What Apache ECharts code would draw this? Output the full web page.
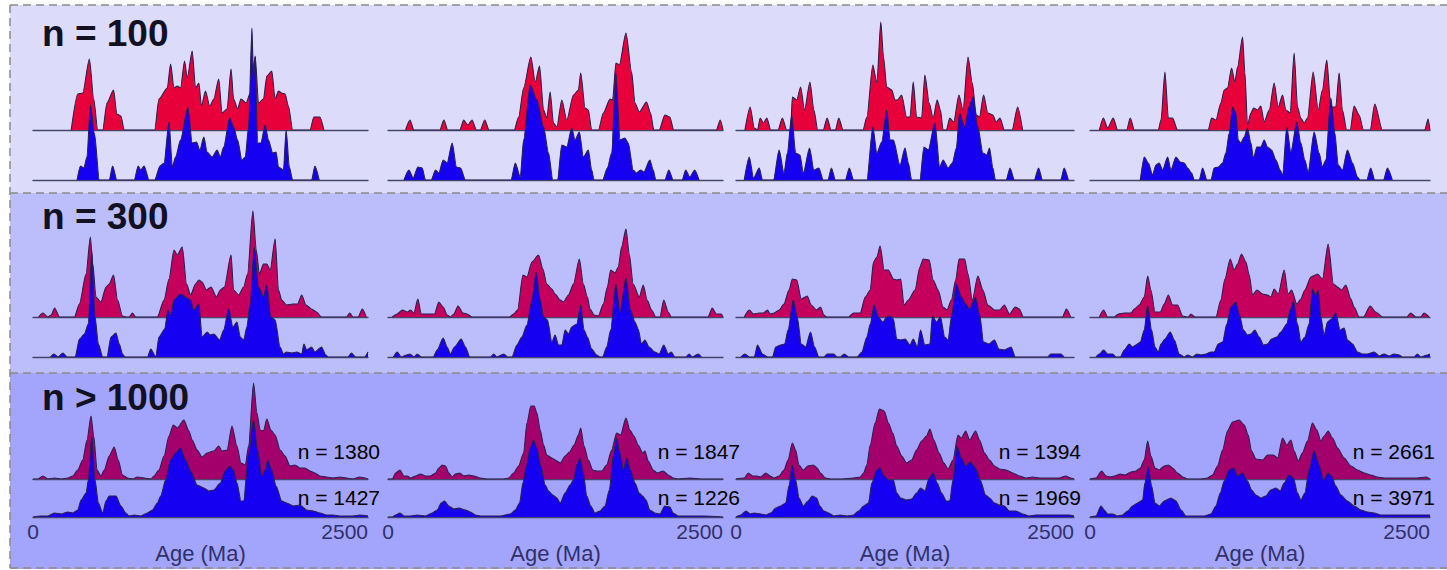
<!DOCTYPE html>
<html><head><meta charset="utf-8">
<script src="https://cdn.jsdelivr.net/npm/echarts@6/dist/echarts.min.js"></script>
<style>html,body{margin:0;padding:0;background:#fff}#c{width:1447px;height:570px}</style>
</head><body><div id="c"></div>
<script>
// ---- Data: [age (Ma), relative probability density] ----
const red100a=[[285,0],[334,36],[371,37],[421,71],[453,31],[483,0],[520,0],[552,27],[601,40],[626,16],[656,14],[681,0],[908,0],[940,31],[1002,42],[1027,66],[1052,42],[1077,44],[1101,42],[1131,69],[1151,52],[1188,79],[1213,42],[1238,47],[1257,24],[1287,39],[1319,24],[1349,31],[1386,51],[1411,17],[1448,21],[1478,61],[1497,31],[1527,21],[1552,31],[1591,27],[1621,37],[1658,74],[1683,27],[1720,31],[1745,54],[1782,59],[1807,31],[1832,39],[1856,37],[1881,36],[1906,24],[1938,0],[2067,0],[2096,13],[2141,13],[2171,0]];
const blue100a=[[329,0],[354,14],[379,12],[403,23],[428,75],[458,47],[495,0],[569,0],[594,14],[626,0],[755,0],[785,14],[804,10],[829,14],[866,0],[908,0],[948,14],[978,17],[1015,58],[1040,13],[1064,23],[1101,40],[1156,73],[1188,37],[1220,38],[1245,30],[1275,43],[1299,28],[1337,23],[1374,30],[1398,23],[1423,33],[1468,62],[1497,53],[1527,40],[1559,20],[1584,23],[1609,53],[1634,152],[1646,97],[1658,123],[1676,37],[1700,37],[1733,55],[1757,40],[1789,27],[1814,28],[1832,13],[1869,10],[1889,50],[1913,13],[1938,0],[2079,0],[2104,14],[2136,0]];
const red100b=[[131,0],[164,10],[193,0],[387,0],[417,10],[446,0],[536,0],[565,10],[595,5],[627,10],[660,0],[689,0],[722,10],[754,0],[942,0],[975,13],[1012,42],[1066,73],[1099,48],[1131,64],[1161,20],[1185,12],[1210,38],[1235,7],[1260,3],[1297,30],[1334,10],[1384,35],[1421,40],[1438,57],[1471,22],[1495,20],[1520,0],[1570,0],[1607,17],[1657,31],[1676,30],[1701,67],[1726,65],[1776,97],[1818,58],[1843,27],[1875,18],[1929,28],[1959,17],[1984,0],[2024,0],[2066,15],[2103,13],[2133,0],[2450,0],[2480,10],[2500,0]];
const blue100b=[[119,0],[156,10],[188,2],[223,13],[255,12],[280,0],[322,0],[355,10],[379,7],[412,20],[441,17],[479,37],[511,13],[541,12],[578,0],[918,0],[950,17],[987,3],[1012,40],[1061,95],[1111,80],[1161,53],[1198,27],[1230,0],[1265,0],[1297,35],[1334,33],[1371,52],[1396,40],[1428,48],[1458,23],[1495,30],[1520,10],[1538,0],[1602,0],[1637,12],[1669,27],[1701,107],[1731,40],[1768,42],[1793,37],[1830,10],[1855,7],[1885,10],[1910,8],[1954,20],[1979,10],[1999,0],[2066,0],[2096,10],[2128,0],[2195,0],[2222,10],[2252,3],[2289,10],[2321,0]];
const red100c=[[66,0],[105,23],[135,2],[159,0],[179,12],[203,7],[228,12],[257,0],[311,0],[343,12],[375,0],[404,0],[417,33],[449,30],[478,43],[507,20],[547,48],[576,20],[605,0],[645,0],[674,12],[703,0],[735,0],[760,12],[792,0],[939,0],[968,13],[1012,65],[1042,47],[1071,108],[1091,73],[1115,43],[1152,40],[1176,30],[1194,30],[1225,35],[1262,13],[1287,13],[1311,48],[1336,13],[1373,12],[1397,55],[1429,27],[1458,12],[1488,30],[1512,20],[1532,0],[1556,0],[1581,12],[1610,8],[1649,35],[1679,20],[1716,73],[1748,47],[1777,15],[1801,13],[1831,35],[1863,17],[1900,15],[1924,8],[1953,12],[1985,0],[2042,0],[2083,23],[2120,0]];
const blue100c=[[61,0],[98,23],[130,2],[172,12],[196,0],[277,0],[319,30],[355,7],[380,27],[412,65],[441,27],[473,25],[498,7],[544,32],[576,10],[613,12],[645,0],[679,0],[706,12],[735,0],[809,0],[838,12],[870,0],[968,0],[1012,53],[1042,27],[1078,38],[1115,70],[1140,40],[1164,40],[1213,15],[1250,32],[1275,17],[1299,0],[1360,0],[1390,33],[1422,30],[1471,57],[1507,13],[1532,20],[1569,12],[1600,17],[1630,32],[1654,67],[1691,53],[1723,73],[1752,83],[1789,53],[1826,27],[1855,25],[1875,32],[1900,12],[1919,0],[1998,0],[2027,12],[2059,0],[2206,0],[2238,12],[2267,0],[2402,0],[2427,12],[2458,0]];
const red100d=[[69,0],[98,12],[130,2],[171,12],[203,0],[269,0],[296,12],[326,0],[502,0],[522,10],[551,58],[576,12],[607,12],[644,0],[869,0],[894,12],[926,10],[962,27],[987,40],[1011,42],[1041,62],[1065,48],[1085,63],[1122,93],[1139,57],[1158,5],[1183,17],[1203,22],[1232,20],[1256,24],[1281,8],[1318,20],[1354,47],[1384,23],[1416,35],[1440,20],[1472,17],[1501,77],[1526,23],[1550,12],[1575,7],[1599,12],[1641,58],[1678,20],[1709,40],[1741,70],[1771,23],[1807,23],[1832,57],[1856,20],[1888,0],[1913,0],[1942,24],[1979,15],[2011,0],[2060,0],[2094,26],[2150,0],[2461,0],[2486,11],[2500,0]];
const blue100d=[[370,0],[399,23],[429,17],[460,5],[485,15],[509,17],[534,10],[571,23],[595,10],[632,23],[664,18],[693,17],[718,12],[747,7],[767,0],[803,0],[828,12],[860,0],[889,0],[913,12],[943,13],[975,17],[999,27],[1024,47],[1048,73],[1073,67],[1090,40],[1109,37],[1134,43],[1158,52],[1183,37],[1202,22],[1227,33],[1256,33],[1281,40],[1305,33],[1335,30],[1367,20],[1398,10],[1416,5],[1447,53],[1477,28],[1521,58],[1550,37],[1580,20],[1604,8],[1648,48],[1685,27],[1709,13],[1734,20],[1771,82],[1800,47],[1825,15],[1856,10],[1893,30],[1930,17],[1967,3],[1986,0],[2035,0],[2064,12],[2094,0],[2158,0],[2187,12],[2223,0]];

const red300a=[[42,0],[74,4],[111,0],[136,2],[161,9],[198,0],[309,0],[346,13],[396,43],[428,80],[446,53],[470,20],[507,15],[545,30],[569,33],[601,42],[631,17],[668,1],[693,0],[718,0],[742,4],[767,0],[928,0],[978,17],[1015,38],[1052,67],[1077,62],[1114,70],[1146,33],[1176,22],[1213,33],[1238,37],[1262,35],[1294,27],[1329,30],[1369,20],[1398,27],[1428,30],[1478,62],[1497,27],[1535,22],[1572,30],[1601,43],[1641,106],[1666,67],[1690,43],[1720,53],[1745,53],[1770,47],[1807,78],[1832,27],[1856,17],[1893,12],[1938,13],[1975,13],[2005,22],[2037,12],[2079,8],[2116,5],[2153,0],[2339,0],[2364,4],[2388,0],[2426,0],[2458,8],[2487,0]];
const blue300a=[[131,0],[156,3],[186,0],[223,4],[255,0],[314,0],[347,18],[384,23],[413,33],[438,107],[463,40],[488,13],[520,0],[552,0],[582,20],[619,24],[644,13],[668,3],[686,0],[854,0],[879,8],[916,0],[940,20],[983,28],[1007,47],[1027,42],[1052,57],[1101,63],[1139,60],[1176,57],[1200,47],[1238,53],[1262,20],[1300,25],[1324,22],[1349,23],[1393,17],[1423,27],[1460,48],[1492,30],[1522,35],[1547,20],[1572,17],[1596,30],[1621,53],[1651,110],[1683,70],[1720,60],[1745,72],[1775,40],[1807,37],[1844,10],[1869,3],[1893,5],[1931,4],[1968,5],[2005,3],[2022,13],[2042,7],[2079,10],[2104,5],[2153,10],[2185,2],[2203,0],[2351,0],[2376,4],[2408,0],[2475,0],[2500,5]];
const red300b=[[32,0],[69,3],[107,7],[144,5],[169,7],[193,4],[223,18],[248,3],[280,3],[317,3],[347,3],[379,15],[412,10],[441,2],[466,0],[491,3],[523,11],[560,4],[590,3],[627,0],[908,0],[937,3],[967,7],[1007,42],[1037,40],[1074,55],[1123,62],[1156,48],[1185,33],[1223,28],[1247,23],[1285,17],[1309,15],[1347,22],[1384,33],[1428,58],[1458,33],[1488,20],[1508,8],[1538,2],[1570,1],[1607,13],[1637,30],[1662,47],[1694,44],[1719,50],[1743,70],[1776,88],[1800,63],[1830,33],[1875,20],[1905,32],[1934,17],[1967,7],[1999,0],[2029,0],[2058,17],[2091,5],[2115,0],[2388,0],[2420,9],[2450,3],[2487,3],[2500,0]];
const blue300b=[[40,0],[69,5],[99,0],[139,2],[164,3],[193,0],[218,3],[248,0],[337,0],[367,7],[412,19],[441,10],[466,3],[496,10],[546,18],[578,10],[610,0],[764,0],[789,3],[813,0],[863,3],[893,0],[925,0],[962,12],[999,20],[1037,32],[1074,57],[1106,85],[1136,57],[1161,40],[1190,37],[1223,15],[1247,22],[1272,12],[1297,12],[1322,27],[1347,23],[1371,30],[1409,33],[1438,52],[1463,27],[1488,20],[1520,8],[1557,2],[1582,0],[1602,0],[1632,10],[1662,27],[1701,73],[1731,45],[1776,79],[1810,47],[1843,35],[1867,28],[1892,13],[1917,17],[1949,10],[1991,5],[2024,3],[2058,12],[2091,3],[2115,5],[2140,0],[2222,0],[2247,3],[2272,0],[2314,3],[2339,0]];
const red300c=[[61,0],[98,7],[130,3],[172,4],[203,4],[233,7],[252,3],[282,4],[319,7],[355,13],[392,27],[417,38],[449,37],[483,18],[527,21],[556,12],[596,7],[625,10],[650,2],[669,0],[833,0],[870,4],[919,4],[956,20],[993,27],[1017,55],[1042,60],[1066,71],[1096,47],[1127,47],[1164,38],[1189,37],[1218,38],[1243,12],[1275,17],[1324,27],[1360,50],[1385,58],[1429,57],[1458,37],[1495,27],[1532,10],[1561,7],[1593,17],[1625,37],[1650,58],[1691,58],[1716,43],[1748,17],[1789,41],[1826,27],[1863,12],[1912,7],[1949,7],[1985,12],[2022,3],[2066,10],[2096,8],[2125,0],[2414,0],[2444,8],[2475,0]];
const blue300c=[[37,0],[66,3],[98,0],[135,0],[159,12],[196,3],[233,0],[270,0],[294,10],[331,12],[360,13],[385,27],[424,57],[453,40],[483,13],[515,10],[551,25],[581,10],[613,0],[650,0],[674,3],[723,3],[748,0],[772,0],[801,3],[833,0],[895,0],[931,5],[968,20],[993,33],[1022,52],[1054,40],[1086,35],[1115,40],[1140,41],[1164,38],[1189,18],[1218,17],[1250,18],[1287,12],[1311,18],[1341,10],[1365,27],[1397,12],[1434,13],[1453,41],[1483,35],[1512,40],[1544,20],[1569,17],[1593,40],[1630,73],[1667,60],[1699,53],[1728,48],[1772,60],[1801,43],[1831,15],[1870,13],[1912,17],[1944,8],[1985,7],[2034,10],[2066,0],[2304,0],[2328,3],[2377,3],[2402,3],[2426,0]];
const red300d=[[69,0],[100,7],[130,0],[179,0],[208,3],[252,4],[301,4],[326,8],[362,12],[399,20],[424,41],[448,27],[478,5],[517,5],[546,13],[576,22],[607,12],[644,12],[681,1],[713,0],[722,0],[742,3],[771,0],[926,0],[962,17],[992,38],[1031,58],[1060,47],[1085,53],[1114,63],[1146,55],[1171,42],[1195,22],[1227,27],[1269,23],[1305,22],[1330,20],[1354,28],[1384,23],[1428,47],[1457,23],[1482,27],[1521,13],[1550,18],[1580,27],[1624,40],[1673,43],[1709,38],[1751,73],[1790,33],[1820,30],[1849,27],[1881,32],[1918,18],[1942,10],[1979,0],[2011,0],[2060,11],[2101,5],[2150,0],[2329,0],[2358,4],[2395,0],[2432,0],[2456,4],[2493,0]];
const blue300d=[[44,0],[69,3],[100,7],[130,3],[167,3],[191,0],[223,0],[252,7],[289,13],[313,10],[338,12],[370,15],[399,27],[424,52],[453,27],[478,10],[502,5],[522,13],[551,18],[590,25],[620,17],[656,3],[693,0],[718,2],[754,0],[786,3],[816,2],[852,3],[889,5],[913,5],[943,13],[975,15],[1006,33],[1036,50],[1073,55],[1097,43],[1129,27],[1158,22],[1183,23],[1212,27],[1244,20],[1276,12],[1305,13],[1335,18],[1374,20],[1403,25],[1447,33],[1472,47],[1496,56],[1526,33],[1550,15],[1580,20],[1611,33],[1636,68],[1660,62],[1678,67],[1697,40],[1722,22],[1746,35],[1776,38],[1807,44],[1839,27],[1869,29],[1893,17],[1930,13],[1967,5],[2003,3],[2040,3],[2089,5],[2126,1],[2162,3],[2199,1],[2236,3],[2273,2],[2297,0],[2383,0],[2407,3],[2432,0],[2481,2],[2500,3]];

const red1000a=[[0,0],[37,0],[74,3],[111,0],[161,1],[210,0],[260,1],[297,3],[334,9],[371,19],[403,39],[433,63],[453,43],[478,9],[507,3],[532,9],[569,23],[606,32],[636,19],[668,4],[705,1],[743,0],[780,2],[829,1],[879,0],[903,3],[940,9],[978,23],[1015,43],[1047,54],[1077,51],[1126,59],[1163,48],[1188,39],[1225,29],[1262,22],[1299,26],[1349,28],[1386,33],[1411,28],[1448,29],[1485,53],[1522,33],[1552,16],[1584,14],[1609,33],[1646,96],[1671,66],[1695,49],[1720,48],[1745,60],[1775,49],[1807,44],[1844,29],[1881,23],[1918,13],[1955,14],[1992,11],[2030,11],[2067,8],[2104,6],[2141,3],[2190,2],[2240,1],[2289,2],[2339,1],[2388,0],[2438,2],[2475,1],[2500,0]];
const blue1000a=[[0,0],[62,1],[111,1],[161,4],[210,3],[260,5],[297,4],[334,7],[359,17],[396,24],[413,37],[438,81],[463,37],[488,14],[520,4],[545,16],[569,21],[619,21],[656,11],[693,4],[718,1],[755,2],[804,1],[854,4],[891,7],[928,14],[953,21],[990,37],[1027,57],[1064,64],[1101,69],[1139,57],[1176,46],[1225,32],[1275,29],[1312,26],[1349,27],[1398,34],[1436,46],[1468,51],[1497,47],[1522,34],[1552,16],[1572,16],[1609,64],[1646,97],[1676,67],[1708,41],[1733,47],[1752,57],[1782,47],[1814,31],[1856,16],[1893,14],[1943,11],[1992,12],[2042,7],[2091,6],[2141,4],[2190,2],[2240,2],[2289,1],[2339,1],[2388,1],[2438,2],[2500,1]];
const red1000b=[[0,0],[32,0],[57,6],[89,9],[119,3],[144,3],[169,1],[206,3],[243,5],[280,3],[317,3],[355,6],[379,11],[404,14],[429,13],[454,6],[479,2],[503,5],[536,6],[565,3],[603,4],[640,3],[689,1],[739,0],[863,0],[900,1],[937,6],[975,13],[1012,26],[1037,56],[1066,73],[1091,73],[1111,66],[1136,49],[1161,34],[1185,24],[1223,21],[1260,18],[1285,16],[1322,23],[1354,27],[1389,34],[1421,44],[1438,51],[1463,33],[1495,19],[1528,9],[1557,8],[1595,8],[1632,14],[1669,29],[1706,46],[1736,44],[1776,61],[1805,49],[1835,43],[1867,34],[1900,26],[1917,28],[1942,18],[1979,9],[2009,6],[2053,8],[2091,4],[2128,1],[2165,0],[2252,1],[2351,0],[2500,0]];
const blue1000b=[[0,0],[32,0],[57,2],[89,4],[119,1],[169,1],[218,2],[280,1],[330,4],[367,7],[397,14],[422,16],[454,11],[491,8],[528,9],[578,7],[615,5],[652,2],[689,1],[764,1],[838,1],[913,3],[950,7],[982,14],[1007,34],[1032,51],[1061,69],[1086,77],[1111,69],[1141,51],[1173,32],[1198,26],[1230,22],[1260,19],[1285,14],[1322,24],[1359,32],[1384,37],[1414,54],[1433,59],[1458,44],[1483,21],[1513,11],[1545,4],[1582,6],[1619,11],[1652,27],[1681,61],[1706,79],[1731,64],[1756,47],[1781,59],[1810,47],[1843,34],[1875,24],[1900,21],[1925,17],[1954,7],[1991,4],[2029,3],[2066,11],[2103,10],[2128,4],[2165,1],[2227,1],[2301,1],[2351,1],[2500,0]];
const red1000c=[[0,0],[61,1],[91,6],[123,3],[154,3],[184,2],[221,6],[252,3],[282,1],[319,3],[355,9],[385,19],[417,36],[441,29],[466,14],[498,9],[532,13],[571,14],[600,11],[625,6],[662,1],[699,0],[772,0],[870,1],[919,2],[944,6],[968,14],[993,34],[1029,56],[1061,70],[1096,68],[1127,56],[1159,46],[1189,33],[1226,23],[1262,16],[1299,19],[1336,29],[1373,38],[1409,43],[1434,50],[1463,39],[1502,26],[1537,16],[1569,10],[1605,19],[1642,44],[1667,41],[1699,48],[1728,39],[1772,48],[1801,39],[1838,26],[1875,19],[1912,13],[1949,10],[1998,9],[2047,6],[2096,3],[2145,1],[2194,2],[2243,1],[2341,1],[2390,1],[2439,3],[2475,1],[2500,0]];
const blue1000c=[[0,0],[37,2],[74,6],[105,3],[135,4],[184,3],[221,2],[257,4],[294,9],[331,11],[368,14],[392,31],[417,52],[441,37],[466,19],[498,11],[532,16],[564,21],[596,19],[620,11],[650,6],[686,4],[723,1],[772,2],[821,1],[870,2],[907,6],[944,11],[980,14],[1005,34],[1042,47],[1066,49],[1096,41],[1127,37],[1164,37],[1189,24],[1218,19],[1262,17],[1299,18],[1336,24],[1365,29],[1397,26],[1429,39],[1458,44],[1488,34],[1520,24],[1556,16],[1581,16],[1605,37],[1635,71],[1667,59],[1699,51],[1733,55],[1772,49],[1806,37],[1846,22],[1875,19],[1912,14],[1949,12],[1985,11],[2022,6],[2071,6],[2120,3],[2169,1],[2218,2],[2316,2],[2414,2],[2463,2],[2500,1]];
const red1000d=[[0,0],[44,1],[86,8],[118,3],[149,2],[179,3],[223,5],[257,4],[301,7],[338,8],[370,11],[399,19],[424,38],[448,23],[478,11],[509,9],[546,13],[576,14],[607,11],[644,6],[681,2],[718,0],[816,0],[864,1],[901,4],[938,13],[975,29],[1011,48],[1048,57],[1097,59],[1134,54],[1163,44],[1188,28],[1220,20],[1269,19],[1305,24],[1349,24],[1379,21],[1416,41],[1447,34],[1477,39],[1501,28],[1531,18],[1562,26],[1599,38],[1636,56],[1668,49],[1697,38],[1722,43],[1751,48],[1783,41],[1820,31],[1869,21],[1918,13],[1967,9],[2016,6],[2064,4],[2113,2],[2162,1],[2285,1],[2407,1],[2469,2],[2500,0]];
const blue1000d=[[0,0],[44,1],[81,11],[105,7],[130,3],[167,3],[203,1],[240,2],[277,6],[313,11],[350,14],[387,17],[404,34],[429,51],[453,31],[478,14],[509,11],[546,16],[595,19],[632,16],[669,7],[705,1],[767,1],[840,1],[889,3],[926,11],[958,24],[987,36],[1024,47],[1056,49],[1085,41],[1122,44],[1158,36],[1188,27],[1220,22],[1256,19],[1293,21],[1330,27],[1367,29],[1398,26],[1428,34],[1465,42],[1496,39],[1526,24],[1550,17],[1580,24],[1611,47],[1648,66],[1685,52],[1717,37],[1751,44],[1776,41],[1807,31],[1844,22],[1893,16],[1942,11],[1991,7],[2040,5],[2089,4],[2138,2],[2260,2],[2407,2],[2500,2]];

const ageTicks = [0, 2500];
const rowLabels = ['n = 100', 'n = 300', 'n > 1000'];
const nRed = [1380, 1847, 1394, 2661];
const nBlue = [1427, 1226, 1969, 3971];

// ---- Layout / styling ----
const redCurves = [[red100a, red100b, red100c, red100d], [red300a, red300b, red300c, red300d], [red1000a, red1000b, red1000c, red1000d]];
const blueCurves = [[blue100a, blue100b, blue100c, blue100d], [blue300a, blue300b, blue300c, blue300d], [blue1000a, blue1000b, blue1000c, blue1000d]];
const colLeft = [33, 388, 736, 1090];
const colWidth = [335, 335, 338, 340];
const redBase = [130, 317, 479];
const blueBase = [180, 357, 517];
const redH = [110, 110, 100];
const blueH = [160, 150, 138];
const redFill = ['#e8003a', '#c4005c', '#a4006c'];
const blueFill = '#1600f2';
const rowBg = ['#dcdcfa', '#bcbdfb', '#a3a4fb'];
const rowTop = [5, 193, 373];
const rowBottom = [193, 373, 569];
const rowLabelY = [33, 216, 397];
const axisColor = '#30306a';
const FONT = 'Liberation Sans, Arial, sans-serif';

const grids = [], xAxes = [], yAxes = [], series = [];
function addPanel(r, c, data, base, H, fill, isBlue) {
  const gi = grids.length;
  const showLab = isBlue && r === 2;
  grids.push({ left: colLeft[c], width: colWidth[c], top: base - H, height: H, containLabel: false, outerBoundsMode: 'none' });
  xAxes.push({
    gridIndex: gi, type: 'value', min: ageTicks[0], max: ageTicks[1], interval: ageTicks[1] - ageTicks[0],
    axisLine: { show: true, onZero: false, lineStyle: { color: '#45456a', width: 1.4 } },
    axisTick: { show: false }, splitLine: { show: false },
    axisLabel: { show: showLab, margin: 4, fontSize: 21, color: axisColor, fontFamily: FONT, alignMaxLabel: 'right', formatter: v => String(v) },
    name: showLab ? 'Age (Ma)' : '', nameLocation: 'middle', nameGap: 23,
    nameTextStyle: { fontSize: 22, color: axisColor, fontFamily: FONT }
  });
  yAxes.push({ gridIndex: gi, type: 'value', min: 0, max: H, show: false });
  series.push({
    type: 'line', xAxisIndex: gi, yAxisIndex: gi, data: data, symbol: 'none', showSymbol: false,
    smooth: 0.25, smoothMonotone: 'x', silent: true, z: isBlue ? 4 : 3,
    lineStyle: { color: '#2a2050', width: 1.1 },
    areaStyle: { color: fill, opacity: 1 }
  });
}
for (let r = 0; r < 3; r++) {
  for (let c = 0; c < 4; c++) {
    addPanel(r, c, redCurves[r][c], redBase[r], redH[r], redFill[r], false);
    addPanel(r, c, blueCurves[r][c], blueBase[r], blueH[r], blueFill, true);
  }
}

const graphics = [];
for (let r = 0; r < 3; r++) {
  graphics.push({ type: 'rect', z: -10, silent: true, shape: { x: 10, y: rowTop[r], width: 1437, height: rowBottom[r] - rowTop[r] }, style: { fill: rowBg[r] } });
}
const dash = { stroke: '#8a8a8a', lineWidth: 1.5, lineDash: [8, 5] };
[5, 193, 373, 568].forEach(y => graphics.push({ type: 'line', z: 50, silent: true, shape: { x1: 10, y1: y, x2: 1447, y2: y }, style: dash }));
graphics.push({ type: 'line', z: 50, silent: true, shape: { x1: 10, y1: 5, x2: 10, y2: 568 }, style: dash });
rowLabels.forEach((t, r) => graphics.push({
  type: 'text', z: 60, x: 42, y: rowLabelY[r],
  style: { text: t, fontSize: 37, fontWeight: 'bold', fontFamily: FONT, fill: '#111122', align: 'left', verticalAlign: 'middle' }
}));
const nRight = [380, 740, 1081, 1435];
for (let c = 0; c < 4; c++) {
  graphics.push({ type: 'text', z: 60, x: nRight[c], y: 451, style: { text: 'n = ' + nRed[c], fontSize: 21, fontFamily: FONT, fill: '#000', align: 'right', verticalAlign: 'middle' } });
  graphics.push({ type: 'text', z: 60, x: nRight[c], y: 497, style: { text: 'n = ' + nBlue[c], fontSize: 21, fontFamily: FONT, fill: '#000', align: 'right', verticalAlign: 'middle' } });
}

const chart = echarts.init(document.getElementById('c'), null, { renderer: 'svg', width: 1447, height: 570 });
chart.setOption({
  animation: false,
  backgroundColor: '#ffffff',
  grid: grids, xAxis: xAxes, yAxis: yAxes, series: series,
  graphic: { elements: graphics }
});
</script></body></html>
